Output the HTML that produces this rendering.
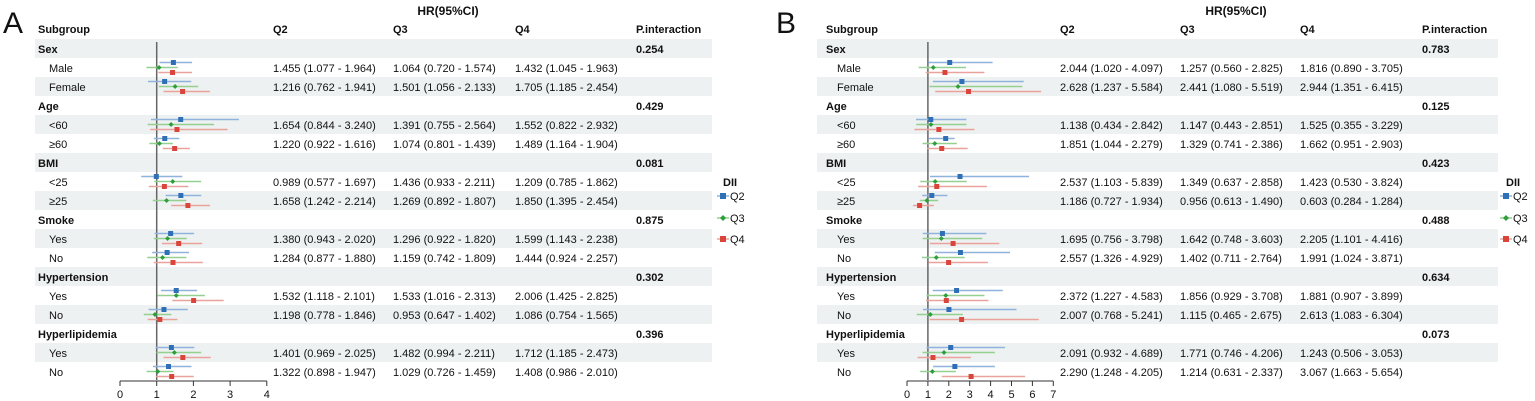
<!DOCTYPE html>
<html><head><meta charset="utf-8">
<style>
html,body{margin:0;padding:0;background:#fff;}
svg{display:block;font-family:"Liberation Sans",Arial,sans-serif;}
</style></head>
<body>
<svg id="chart" width="1535" height="401" viewBox="0 0 1535 401"></svg>
<script>
const labels = ["Sex","Male","Female","Age","<60","≥60","BMI","<25","≥25","Smoke","Yes","No","Hypertension","Yes","No","Hyperlipidemia","Yes","No"];
const isHeader = [1,0,0,1,0,0,1,0,0,1,0,0,1,0,0,1,0,0];
// Panel A
const aQ2 = [null,[1.455,1.077,1.964],[1.216,0.762,1.941],null,[1.654,0.844,3.240],[1.220,0.922,1.616],null,[0.989,0.577,1.697],[1.658,1.242,2.214],null,[1.380,0.943,2.020],[1.284,0.877,1.880],null,[1.532,1.118,2.101],[1.198,0.778,1.846],null,[1.401,0.969,2.025],[1.322,0.898,1.947]];
const aQ3 = [null,[1.064,0.720,1.574],[1.501,1.056,2.133],null,[1.391,0.755,2.564],[1.074,0.801,1.439],null,[1.436,0.933,2.211],[1.269,0.892,1.807],null,[1.296,0.922,1.820],[1.159,0.742,1.809],null,[1.533,1.016,2.313],[0.953,0.647,1.402],null,[1.482,0.994,2.211],[1.029,0.726,1.459]];
const aQ4 = [null,[1.432,1.045,1.963],[1.705,1.185,2.454],null,[1.552,0.822,2.932],[1.489,1.164,1.904],null,[1.209,0.785,1.862],[1.850,1.395,2.454],null,[1.599,1.143,2.238],[1.444,0.924,2.257],null,[2.006,1.425,2.825],[1.086,0.754,1.565],null,[1.712,1.185,2.473],[1.408,0.986,2.010]];
const aP = ["0.254","","","0.429","","","0.081","","","0.875","","","0.302","","","0.396","",""];
const aTicks = [0,1,2,3,4];
// Panel B
const bQ2 = [null,[2.044,1.020,4.097],[2.628,1.237,5.584],null,[1.138,0.434,2.842],[1.851,1.044,2.279],null,[2.537,1.103,5.839],[1.186,0.727,1.934],null,[1.695,0.756,3.798],[2.557,1.326,4.929],null,[2.372,1.227,4.583],[2.007,0.768,5.241],null,[2.091,0.932,4.689],[2.290,1.248,4.205]];
const bQ3 = [null,[1.257,0.560,2.825],[2.441,1.080,5.519],null,[1.147,0.443,2.851],[1.329,0.741,2.386],null,[1.349,0.637,2.858],[0.956,0.613,1.490],null,[1.642,0.748,3.603],[1.402,0.711,2.764],null,[1.856,0.929,3.708],[1.115,0.465,2.675],null,[1.771,0.746,4.206],[1.214,0.631,2.337]];
const bQ4 = [null,[1.816,0.890,3.705],[2.944,1.351,6.415],null,[1.525,0.355,3.229],[1.662,0.951,2.903],null,[1.423,0.530,3.824],[0.603,0.284,1.284],null,[2.205,1.101,4.416],[1.991,1.024,3.871],null,[1.881,0.907,3.899],[2.613,1.083,6.304],null,[1.243,0.506,3.053],[3.067,1.663,5.654]];
const bP = ["0.783","","","0.125","","","0.423","","","0.488","","","0.634","","","0.073","",""];
const bTicks = [0,1,2,3,4,5,6,7];

const NS="http://www.w3.org/2000/svg";
const svg=document.getElementById('chart');
function mk(tag,attrs,parent){const e=document.createElementNS(NS,tag);for(const k in attrs)e.setAttribute(k,attrs[k]);(parent||svg).appendChild(e);return e;}
function txt(s,x,y,opts,parent){const t=mk('text',Object.assign({x:x,y:y,'font-size':11,fill:'#111'},opts||{}),parent);t.textContent=s;return t;}
const COLORS={q2:['#2f6fb5','#8fb3dc'],q3:['#2e9e3a','#94d08f'],q4:['#d9453a','#eaa39c']};
const fmt=v=>v.toFixed(3);

function panel(cfg){
  const g=mk('g',{});
  
  
  const rowY=i=>39+i*19;
  const xs=v=>cfg.x0+(v-cfg.t0)*cfg.unit;
  const L=txt(cfg.letter,cfg.letterX,33,{'font-size':30},g);
  
  const t=txt('HR(95%CI)',cfg.titleX,15,{'font-size':12,'font-weight':'bold','text-anchor':'middle'},g);
  
  const hd=[['Subgroup',cfg.sx],['Q2',cfg.c2],['Q3',cfg.c3],['Q4',cfg.c4],['P.interaction',cfg.cp]];
  hd.forEach(h=>{const e=txt(h[0],h[1],33,{'font-weight':'bold'},g);});
  labels.forEach((lab,i)=>{
    const y=rowY(i);
    if(i%2===0){const r=mk('rect',{x:cfg.stripeX,y:y,width:cfg.stripeW,height:19,fill:'#eef1f1'},g);}
    const e=txt(lab,isHeader[i]?cfg.sx:cfg.sx+11,y+14,isHeader[i]?{'font-weight':'bold'}:{},g);
    
    if(cfg.p[i]){const p=txt(cfg.p[i],cfg.cp,y+14,{'font-weight':'bold'},g);}
    if(cfg.q2[i]){
      [[cfg.q2,cfg.c2],[cfg.q3,cfg.c3],[cfg.q4,cfg.c4]].forEach(a=>{const d=a[0][i];const e2=txt(fmt(d[0])+' ('+fmt(d[1])+' - '+fmt(d[2])+')',a[1],y+14,{},g);});
    }
  });
  const ref=mk('line',{x1:xs(1),x2:xs(1),y1:42,y2:380,stroke:'#666','stroke-width':1.5},g);
  
  [['q2',cfg.q2,-5],['q3',cfg.q3,0],['q4',cfg.q4,5]].forEach(s=>{
    const col=COLORS[s[0]];
    s[1].forEach((d,i)=>{
      if(!d)return;
      const y=rowY(i)+9.5+s[2];
      const l=mk('line',{x1:xs(d[1]),x2:xs(d[2]),y1:y,y2:y,stroke:col[1],'stroke-width':1.5},g);
      
      let m;
      if(s[0]==='q3'){const cx=xs(d[0]);m=mk('polygon',{points:`${cx},${y-2.5} ${cx+2.5},${y} ${cx},${y+2.5} ${cx-2.5},${y}`,fill:col[0]},g);}
      else m=mk('rect',{x:xs(d[0])-2.5,y:y-2.5,width:5,height:5,fill:col[0]},g);
      
    });
  });
  const ax=mk('g',{},g);
  const last=cfg.ticks[cfg.ticks.length-1];
  mk('line',{x1:xs(cfg.ticks[0]),x2:xs(last),y1:381,y2:381,stroke:'#333','stroke-width':1},ax);
  cfg.ticks.forEach(v=>{
    mk('line',{x1:xs(v),x2:xs(v),y1:381,y2:386,stroke:'#333','stroke-width':1},ax);
    const tl=txt(String(v),xs(v),398,{'text-anchor':'middle','font-size':11},ax);
    
  });
  const lg=mk('g',{},g);
  const le=txt('DII',cfg.lx+3,186,{'font-weight':'bold'},lg);
  [['q2',196,'Q2'],['q3',218,'Q3'],['q4',239,'Q4']].forEach(r=>{
    const c=COLORS[r[0]];const y=r[1];
    const eg=mk('g',{},lg);
    mk('line',{x1:cfg.lx-3,x2:cfg.lx+9,y1:y,y2:y,stroke:c[1],'stroke-width':1.5},eg);
    if(r[0]==='q3'){const cx=cfg.lx+3;mk('polygon',{points:`${cx},${y-3} ${cx+3},${y} ${cx},${y+3} ${cx-3},${y}`,fill:c[0]},eg);}
    else mk('rect',{x:cfg.lx,y:y-3,width:6,height:6,fill:c[0]},eg);
    txt(r[2],cfg.lx+10,y+4,{'font-size':11},eg);
  });
}
panel({name:'panel-a',letter:'A',letterX:3,titleX:448,sx:38,stripeX:35,stripeW:677,c2:273,c3:393,c4:515,cp:636,x0:120,t0:0,unit:36.7,ticks:aTicks,q2:aQ2,q3:aQ3,q4:aQ4,p:aP,lx:720});
panel({name:'panel-b',letter:'B',letterX:776,titleX:1236,sx:826,stripeX:817,stripeW:681,c2:1060,c3:1180,c4:1300,cp:1422,x0:907,t0:0,unit:20.9,ticks:bTicks,q2:bQ2,q3:bQ3,q4:bQ4,p:bP,lx:1503});
</script>
</body></html>
